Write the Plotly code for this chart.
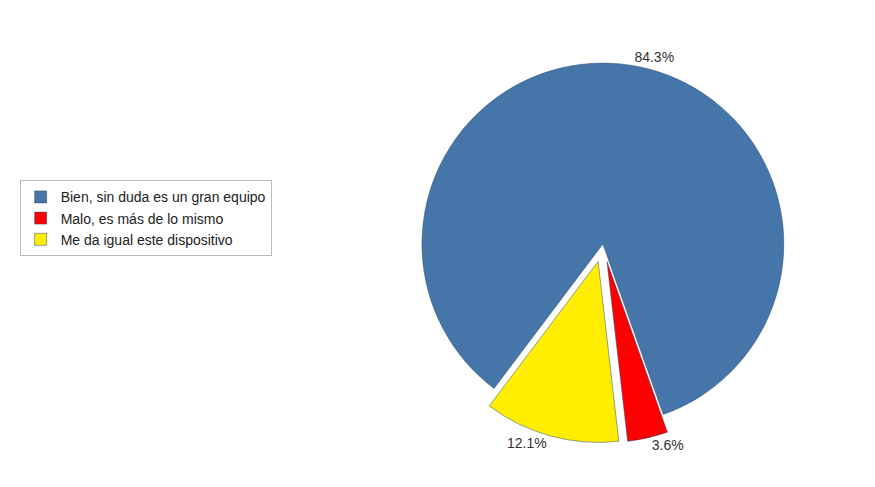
import plotly.graph_objects as go

labels = ["Bien, sin duda es un gran equipo", "Malo, es más de lo mismo", "Me da igual este dispositivo"]
values = [84.3, 3.6, 12.1]
colors = ["#4575A9", "#FF0000", "#FFEE00"]

fig = go.Figure(go.Pie(
    labels=labels,
    values=values,
    sort=False,
    direction="clockwise",
    rotation=217,
    pull=[0, 0.1, 0.1],
    marker=dict(colors=colors, line=dict(color="#2a4a70", width=0.5)),
    textinfo="percent",
    texttemplate="%{percent:.1%}",
    textposition="outside",
    textfont=dict(size=14, color="#333333"),
    domain=dict(x=[0.44, 0.99], y=[0.0, 1.0]),
))

fig.update_layout(
    width=875, height=487,
    margin=dict(l=0, r=0, t=0, b=0),
    paper_bgcolor="white",
    font=dict(family="Liberation Sans, Arial", size=13, color="#222222"),
    legend=dict(x=0.014, y=0.66, xanchor="left", yanchor="top",
                bordercolor="#bbbbbb", borderwidth=1, bgcolor="white",
                font=dict(size=14), itemwidth=30, tracegroupgap=0),
)

fig.write_html("out.html")
